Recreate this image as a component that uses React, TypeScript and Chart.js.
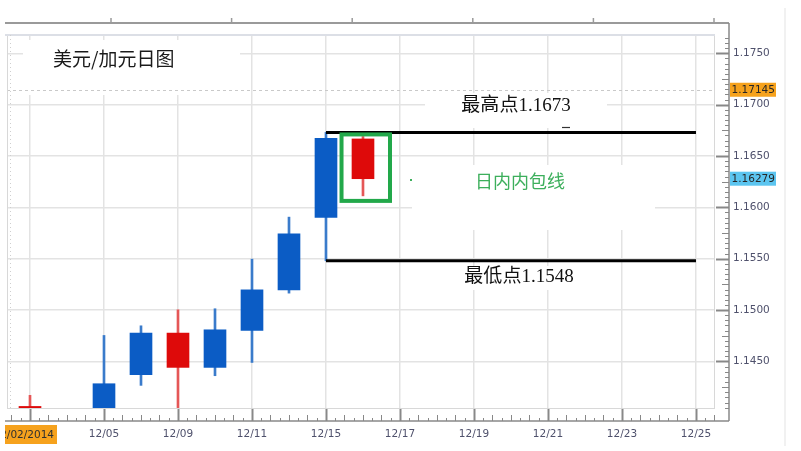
import React, { useEffect, useRef } from 'react';
import { Chart, registerables } from 'chart.js';

Chart.register(...registerables);

// ---- data ----
const slots = [0, 2, 3, 4, 5, 6, 7, 8, 9];
const opens = [1.14062, 1.1403, 1.14371, 1.14776, 1.14442, 1.14802, 1.15197, 1.15901, 1.16666];
const highs = [1.1417, 1.14753, 1.14847, 1.15003, 1.15013, 1.15496, 1.15905, 1.1673, 1.1669];
const lows = [1.1403, 1.1401, 1.14267, 1.1398, 1.14361, 1.1449, 1.15165, 1.1548, 1.16112];
const closes = [1.1404, 1.14283, 1.14776, 1.14442, 1.14808, 1.15197, 1.15742, 1.16673, 1.16279];

const tickSlots = [0, 2, 4, 6, 8, 10, 12, 14, 16, 18];
const tickLabels = ['12/02/2014', '12/05', '12/09', '12/11', '12/15', '12/17', '12/19', '12/21', '12/23', '12/25'];
const priceTicks = [1.145, 1.15, 1.155, 1.16, 1.165, 1.17, 1.175];
const markerPrices = [1.17145, 1.16279];
const keyLevels = [1.1673, 1.1548];
const levelLabels = ['最高点1.1673', '最低点1.1548'];
const titleText = '美元/加元日图';
const patternLabel = '日内内包线';

// ---- layout / style ----
const X_MIN = -0.6216;
const X_MAX = 18.514;
const Y_MIN = 1.14037;
const Y_MAX = 1.17678;
const LEVEL_FROM_SLOT = 8;
const LEVEL_TO_SLOT = 18;
const BOX = { fromSlot: 8.42, toSlot: 9.73, top: 1.1671, bottom: 1.16063 };

const BLUE = '#0b5cc5';
const BLUE_WICK = '#3a7bcb';
const RED = '#de0a0a';
const RED_WICK = '#e55757';
const AXIS_TEXT = '#4f516c';
const FONT = '"DejaVu Sans", Verdana, sans-serif';
const CJK = '"Noto Sans CJK SC", sans-serif';
const SERIF_CJK = '"Liberation Serif", "Noto Sans CJK SC", serif';

// white backgrounds behind text (canvas coords)
const WHITE_BOXES: [number, number, number, number][] = [
  [18, 40, 217, 55],
  [420, 93, 182, 35],
  [407, 165, 243, 65],
  [448, 266, 140, 24],
];

const isUp = (i: number) => closes[i] >= opens[i];

const decorPlugin = {
  id: 'decor',
  beforeDatasetsDraw(chart: any) {
    const { ctx, chartArea: a, scales } = chart;
    const y = scales.y;
    ctx.save();
    ctx.fillStyle = '#ffffff';
    for (const [bx, by, bw, bh] of WHITE_BOXES) ctx.fillRect(bx, by, bw, bh);
    // dashed last-price line
    const ym = Math.round(y.getPixelForValue(markerPrices[0])) + 0.5;
    ctx.strokeStyle = '#c9c9c9';
    ctx.lineWidth = 1;
    ctx.setLineDash([3, 3]);
    ctx.beginPath();
    ctx.moveTo(a.left, ym);
    ctx.lineTo(a.right, ym);
    ctx.stroke();
    ctx.setLineDash([]);
    ctx.restore();
  },
  afterDatasetsDraw(chart: any) {
    const { ctx, scales } = chart;
    const x = scales.x;
    const y = scales.y;
    ctx.save();
    // key level lines
    const x0 = x.getPixelForValue(LEVEL_FROM_SLOT);
    const x1 = x.getPixelForValue(LEVEL_TO_SLOT);
    ctx.strokeStyle = '#000000';
    ctx.lineWidth = 3;
    for (const lv of keyLevels) {
      const py = y.getPixelForValue(lv);
      ctx.beginPath();
      ctx.moveTo(x0, py);
      ctx.lineTo(x1, py);
      ctx.stroke();
    }
    // inside-bar box
    const bl = x.getPixelForValue(BOX.fromSlot);
    const br = x.getPixelForValue(BOX.toSlot);
    const bt = y.getPixelForValue(BOX.top);
    const bb = y.getPixelForValue(BOX.bottom);
    ctx.strokeStyle = '#22a84a';
    ctx.lineWidth = 4;
    ctx.strokeRect(bl, bt, br - bl, bb - bt);
    // small marks
    ctx.fillStyle = '#3daf5c';
    ctx.fillRect(405, 179, 2, 2);
    ctx.strokeStyle = '#333';
    ctx.lineWidth = 1.2;
    ctx.beginPath();
    ctx.moveTo(557, 127.5);
    ctx.lineTo(565, 127.5);
    ctx.stroke();
    // texts
    ctx.textBaseline = 'middle';
    ctx.textAlign = 'center';
    ctx.fillStyle = '#111111';
    ctx.font = '19px ' + SERIF_CJK;
    ctx.fillText(levelLabels[0], 511, 106);
    ctx.fillText(levelLabels[1], 514, 277);
    ctx.fillStyle = '#3daf5c';
    ctx.font = '18px ' + CJK;
    ctx.fillText(patternLabel, 515, 181);
    ctx.textAlign = 'left';
    ctx.fillStyle = '#1a1a1a';
    ctx.font = '19px ' + CJK;
    ctx.fillText(titleText, 48, 59);
    ctx.restore();
  },
  afterDraw(chart: any) {
    const { ctx, chartArea: a, scales } = chart;
    const x = scales.x;
    const y = scales.y;
    ctx.save();
    // faint outer right line
    ctx.strokeStyle = '#ececec';
    ctx.lineWidth = 1.5;
    ctx.beginPath();
    ctx.moveTo(780, 8);
    ctx.lineTo(780, 446);
    ctx.stroke();
    // plot frame
    ctx.strokeStyle = '#d8d8d8';
    ctx.lineWidth = 1;
    ctx.strokeRect(a.left + 0.5, a.top + 0.5, a.width - 1, a.height - 1);
    ctx.strokeStyle = '#dcdfe6';
    ctx.lineWidth = 2;
    ctx.beginPath();
    ctx.moveTo(0, a.top);
    ctx.lineTo(a.right, a.top);
    ctx.stroke();
    // left dotted ruler
    ctx.strokeStyle = '#cfcfcf';
    ctx.lineWidth = 1;
    ctx.setLineDash([1, 3]);
    ctx.beginPath();
    ctx.moveTo(5.5, a.top);
    ctx.lineTo(5.5, a.bottom);
    ctx.stroke();
    ctx.setLineDash([]);
    // top gray line with ticks
    const baseX = a.right + 14;
    const baseY = a.bottom + 12;
    ctx.strokeStyle = '#9a9a9a';
    ctx.lineWidth = 2;
    ctx.beginPath();
    ctx.moveTo(0, 23);
    ctx.lineTo(baseX, 23);
    ctx.stroke();
    ctx.lineWidth = 1.5;
    for (let k = 0; k < 6; k++) {
      const tx = a.right - 1 - k * 120.6;
      ctx.beginPath();
      ctx.moveTo(tx, 18);
      ctx.lineTo(tx, 23);
      ctx.stroke();
    }
    // right ruler
    ctx.strokeStyle = '#888888';
    ctx.lineWidth = 1.5;
    ctx.beginPath();
    ctx.moveTo(baseX, 23);
    ctx.lineTo(baseX, baseY);
    ctx.stroke();
    for (let k = Math.ceil(Y_MIN / 0.0005); k * 0.0005 <= Y_MAX + 1e-9; k++) {
      const py = Math.round(y.getPixelForValue(k * 0.0005)) + 0.5;
      const len = k % 10 === 0 ? 13 : k % 5 === 0 ? 7 : 4;
      ctx.lineWidth = k % 10 === 0 ? 2 : 1;
      ctx.beginPath();
      ctx.moveTo(baseX - len, py);
      ctx.lineTo(baseX, py);
      ctx.stroke();
    }
    // bottom ruler
    ctx.lineWidth = 1.5;
    ctx.beginPath();
    ctx.moveTo(0, baseY);
    ctx.lineTo(baseX, baseY);
    ctx.stroke();
    for (let q = Math.ceil(X_MIN * 4); q <= Math.floor(X_MAX * 4); q++) {
      const px = Math.round(x.getPixelForValue(q / 4)) + 0.5;
      const major = q % 8 === 0;
      const len = major ? 12 : q % 2 === 0 ? 6 : 3;
      ctx.lineWidth = major ? 2 : 1;
      ctx.beginPath();
      ctx.moveTo(px, baseY - len);
      ctx.lineTo(px, baseY);
      ctx.stroke();
    }
    // price badges
    ctx.font = '10.5px ' + FONT;
    ctx.textBaseline = 'middle';
    ctx.textAlign = 'left';
    markerPrices.forEach((v, i) => {
      const py = y.getPixelForValue(v);
      ctx.fillStyle = i === 0 ? '#f6a21d' : '#5cc5f0';
      ctx.fillRect(725, py - 7, 46, 14);
      ctx.fillStyle = '#262626';
      ctx.fillText(v.toFixed(5), 726.5, py + 0.5);
    });
    // first date badge (clipped at canvas edge)
    ctx.fillStyle = '#f6a21d';
    ctx.fillRect(0, 425, 52, 19);
    ctx.fillStyle = '#303030';
    ctx.textAlign = 'right';
    ctx.fillText(tickLabels[0], 49, 435);
    ctx.restore();
  },
};

export default function App() {
  const ref = useRef<HTMLCanvasElement>(null);
  useEffect(() => {
    const bodyData = slots.map((s, i) => ({ x: s, y: [opens[i], closes[i]] }));
    const wickData = slots.map((s, i) => ({ x: s, y: [lows[i], highs[i]] }));
    const chart = new Chart(ref.current as HTMLCanvasElement, {
      type: 'bar',
      data: {
        datasets: [
          {
            label: 'body',
            data: bodyData as any,
            backgroundColor: slots.map((_, i) => (isUp(i) ? BLUE : RED)),
            borderWidth: 0,
            barThickness: 22,
            grouped: false,
            order: 1,
            clip: 0 as any,
          },
          {
            label: 'wick',
            data: wickData as any,
            backgroundColor: slots.map((_, i) => (isUp(i) ? BLUE_WICK : RED_WICK)),
            borderWidth: 0,
            barThickness: 2,
            grouped: false,
            order: 2,
            clip: 0 as any,
          },
        ],
      },
      options: {
        animation: false,
        responsive: false,
        events: [],
        layout: { padding: { left: 2, top: 35, right: 0, bottom: 0 } },
        plugins: { legend: { display: false }, tooltip: { enabled: false } },
        scales: {
          x: {
            type: 'linear',
            offset: false,
            min: X_MIN,
            max: X_MAX,
            afterBuildTicks: (s: any) => {
              s.ticks = tickSlots.map((v) => ({ value: v }));
            },
            afterFit: (s: any) => {
              s.height = 42;
            },
            grid: { color: '#e3e3e3', lineWidth: 1.5, drawTicks: false, offset: false },
            border: { display: false },
            ticks: {
              autoSkip: false,
              maxRotation: 0,
              padding: 19,
              color: AXIS_TEXT,
              font: { family: FONT, size: 10.5 },
              callback: (v: any) => {
                const k = tickSlots.indexOf(Number(v));
                return k > 0 ? tickLabels[k] : '';
              },
            },
          },
          y: {
            type: 'linear',
            position: 'right',
            min: Y_MIN,
            max: Y_MAX,
            afterBuildTicks: (s: any) => {
              s.ticks = priceTicks.map((v) => ({ value: v }));
            },
            afterFit: (s: any) => {
              s.width = 86;
            },
            grid: { color: '#e3e3e3', lineWidth: 1.5, drawTicks: false },
            border: { display: false },
            ticks: {
              padding: 18,
              color: AXIS_TEXT,
              font: { family: FONT, size: 10.5 },
              callback: (v: any) => Number(v).toFixed(4),
            },
          },
        },
      },
      plugins: [decorPlugin],
    });
    return () => chart.destroy();
  }, []);
  return (
    <div style={{ position: 'absolute', left: 5, top: 0, width: 796, height: 451, background: '#ffffff' }}>
      <canvas ref={ref} width={796} height={451} style={{ display: 'block', width: 796, height: 451 }} />
    </div>
  );
}
